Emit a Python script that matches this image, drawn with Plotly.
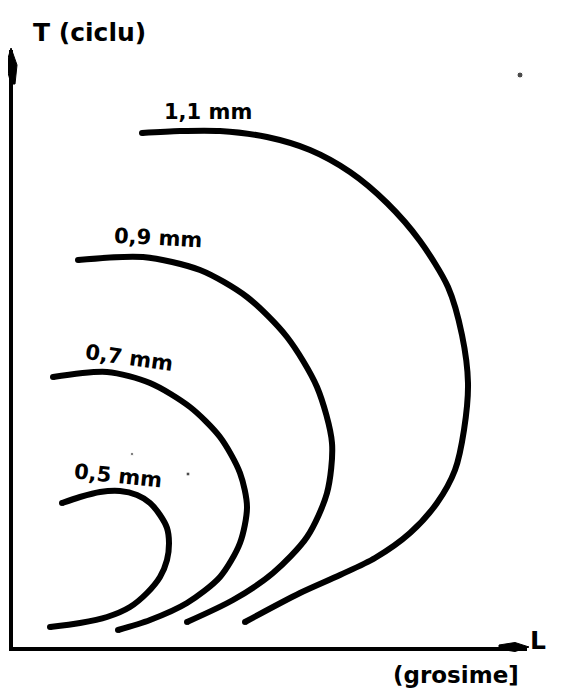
import plotly.graph_objects as go

# ---- data (L = grosime, T = ciclu), schematic units ----
curve_labels = ["0,5 mm", "0,7 mm", "0,9 mm", "1,1 mm"]

L_05 = [49, 67, 87, 107, 124, 137, 147, 154, 156, 154, 147, 134, 117, 94, 67, 37]
T_05 = [144, 150, 155, 156, 152, 144, 132, 119, 104, 87, 70, 54, 40, 30, 24, 20]

L_07 = [40, 94, 137, 177, 207, 227, 234, 227, 207, 174, 137, 105]
T_07 = [270, 275, 264, 240, 210, 174, 140, 104, 70, 44, 27, 17]

L_09 = [65, 130, 187, 234, 274, 304, 319, 314, 294, 260, 220, 174]
T_09 = [387, 390, 377, 350, 310, 260, 204, 154, 110, 74, 47, 25]

L_11 = [129, 167, 207, 254, 297, 337, 374, 407, 435, 449, 455, 451, 442, 424, 397, 362, 327, 287, 232]
T_11 = [514, 516, 516, 510, 497, 475, 444, 406, 360, 312, 264, 217, 177, 144, 114, 89, 72, 54, 25]

curves_L = [L_05, L_07, L_09, L_11]
curves_T = [T_05, T_07, T_09, T_11]

# stray specks of the scanned original
speck_L = [507, 543, 175, 119, 553, 555, 555]
speck_T = [572, 203, 173, 193, 14, 4, 35]
speck_size = [6, 5, 4, 3, 4, 4, 3]

# ---- layout constants ----
X_MAX = 514
Y_MAX = 597
label_pos = [(105, 171, 6), (116, 289, 8), (145, 409, 3), (195, 535, 0)]
FONT = "DejaVu Sans"
LW = 6

fig = go.Figure()
for Ls, Ts in zip(curves_L, curves_T):
    fig.add_trace(go.Scatter(x=Ls, y=Ts, mode="lines",
                             line=dict(color="black", width=LW, shape="spline", smoothing=0.8),
                             hoverinfo="skip", showlegend=False, cliponaxis=False))
    fig.add_trace(go.Scatter(x=[Ls[0], Ls[-1]], y=[Ts[0], Ts[-1]], mode="markers",
                             marker=dict(color="black", size=LW),
                             hoverinfo="skip", showlegend=False, cliponaxis=False))

fig.add_trace(go.Scatter(x=speck_L, y=speck_T, mode="markers",
                         marker=dict(color="black", size=speck_size),
                         hoverinfo="skip", showlegend=False, cliponaxis=False))

annotations = []
for text, (lx, ly, ang) in zip(curve_labels, label_pos):
    annotations.append(dict(x=lx, y=ly, xref="x", yref="y", text="<b>" + text + "</b>",
                            showarrow=False, textangle=ang, xanchor="center", yanchor="middle",
                            font=dict(family=FONT, size=21, color="black")))

annotations += [
    dict(x=0.1498, y=1.0285, xref="paper", yref="paper", text="<b>T (ciclu)</b>", showarrow=False,
         xanchor="center", yanchor="middle",
         font=dict(family=FONT, size=25, color="black")),
    dict(x=1.0214, y=0.0117, xref="paper", yref="paper", text="<b>L</b>", showarrow=False,
         xanchor="center", yanchor="middle",
         font=dict(family=FONT, size=25, color="black")),
    dict(x=0.862, y=-0.0469, xref="paper", yref="paper", text="<b>(grosime]</b>", showarrow=False,
         xanchor="center", yanchor="middle",
         font=dict(family=FONT, size=23, color="black")),
]

shapes = [
    # arrowhead at the end of the L axis
    dict(type="path", xref="paper", yref="paper", xsizemode="pixel", ysizemode="pixel",
         xanchor=1, yanchor=0,
         path="M2,0 L-12,4.5 L-28,2 L-28,-2 L-12,-4.5 Z",
         fillcolor="black", line=dict(color="black", width=1)),
    # arrowhead at the top of the T axis
    dict(type="path", xref="paper", yref="paper", xsizemode="pixel", ysizemode="pixel",
         xanchor=0, yanchor=1,
         path="M-2,2 L-7,-15 L-2,-34 L2,-34 L4,-15 Z",
         fillcolor="black", line=dict(color="black", width=1)),
]

# the page body adds an 8 px offset; figure size and margins compensate for it
fig.update_layout(
    width=568, height=684,
    margin=dict(l=5, r=49, t=42, b=45),
    paper_bgcolor="white", plot_bgcolor="white",
    xaxis=dict(range=[0, X_MAX], showline=True, linecolor="black", linewidth=3.5,
               showgrid=False, zeroline=False, showticklabels=False, ticks="", fixedrange=True),
    yaxis=dict(range=[0, Y_MAX], showline=True, linecolor="black", linewidth=3.5,
               showgrid=False, zeroline=False, showticklabels=False, ticks="", fixedrange=True),
    annotations=annotations,
    shapes=shapes,
    showlegend=False,
)

fig.write_html("out.html")
